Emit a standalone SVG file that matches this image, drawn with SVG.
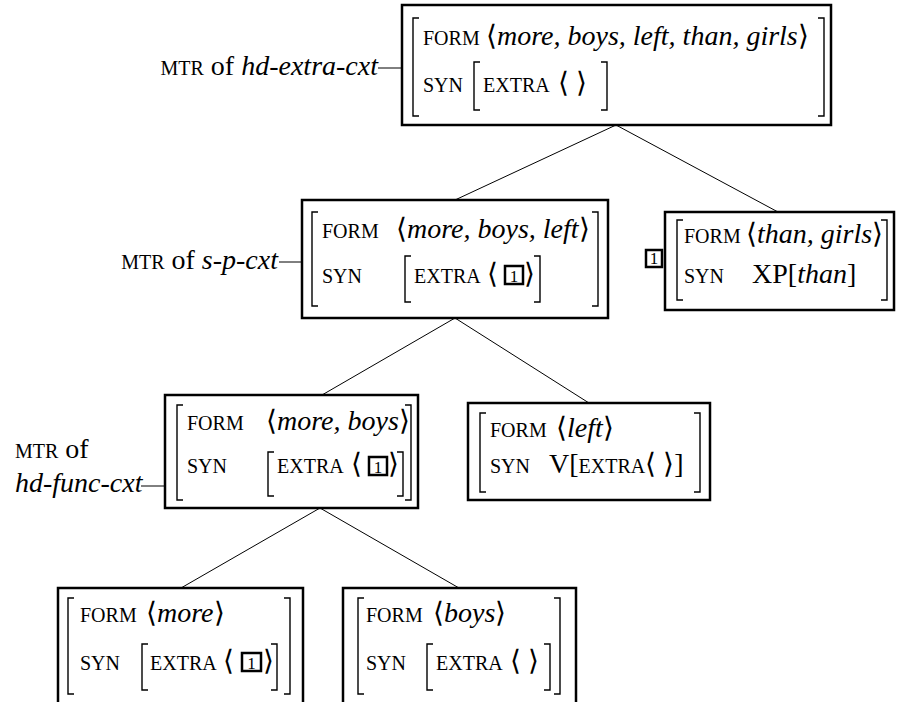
<svg xmlns="http://www.w3.org/2000/svg" width="902" height="702" viewBox="0 0 902 702">
<style>
text{font-family:"Liberation Serif","Times New Roman",serif;fill:#000}
.sc{font-size:20px}
.rm{font-size:28px}
.it{font-style:italic}
.box{fill:#fff;stroke:#000;stroke-width:2.5}
.br{fill:none;stroke:#000;stroke-width:1.4}
.edge{stroke:#000;stroke-width:1;fill:none}
.tag{fill:none;stroke:#000;stroke-width:2.5}
.tt{font-size:17px}
</style>
<rect width="902" height="702" fill="#fff"/>
<g id="connectors">
<line class="edge" x1="616" y1="125" x2="455" y2="200"/>
<line class="edge" x1="616" y1="125" x2="778" y2="212"/>
<line class="edge" x1="455" y1="318" x2="322" y2="395"/>
<line class="edge" x1="455" y1="318" x2="589" y2="403"/>
<line class="edge" x1="320" y1="508" x2="181" y2="588"/>
<line class="edge" x1="320" y1="508" x2="459" y2="588"/>
<line class="edge" x1="378" y1="68" x2="402" y2="68"/>
<line class="edge" x1="279" y1="262" x2="302" y2="262"/>
<line class="edge" x1="141" y1="486" x2="165" y2="486"/>
</g>
<g id="label-hd-extra">
<text x="378" y="75" text-anchor="end"><tspan class="sc">MTR</tspan><tspan class="rm"> of </tspan><tspan class="rm it">hd-extra-cxt</tspan></text>
</g>
<g id="label-s-p">
<text x="278" y="269" text-anchor="end"><tspan class="sc">MTR</tspan><tspan class="rm"> of </tspan><tspan class="rm it">s-p-cxt</tspan></text>
</g>
<g id="label-hd-func">
<text x="15" y="458"><tspan class="sc">MTR</tspan><tspan class="rm"> of</tspan></text>
<text x="15" y="492" class="rm it">hd-func-cxt</text>
</g>
<g id="node-top">
<rect class="box" x="402" y="5" width="429" height="120"/>
<path class="br" d="M419,18H413V116H419"/>
<path class="br" d="M818,18H824V116H818"/>
<text x="423" y="45" class="sc">FORM</text>
<text x="486" y="45" class="rm">⟨<tspan class="it">more, boys, left, than, girls</tspan>⟩</text>
<text x="423" y="92" class="sc">SYN</text>
<path class="br" d="M480,62H474V110H480"/>
<text x="483" y="92" class="sc">EXTRA</text>
<text x="558" y="92" class="rm">⟨ ⟩</text>
<path class="br" d="M601,62H607V110H601"/>
</g>
<g id="node-s-p">
<rect class="box" x="302" y="200" width="306" height="118"/>
<path class="br" d="M318,212H312V306H318"/>
<path class="br" d="M592,212H598V306H592"/>
<text x="322" y="238" class="sc">FORM</text>
<text x="396" y="238" class="rm">⟨<tspan class="it">more, boys, left</tspan>⟩</text>
<text x="322" y="283" class="sc">SYN</text>
<path class="br" d="M411,256H405V302H411"/>
<text x="414" y="283" class="sc">EXTRA</text>
<text x="487" y="283" class="rm">⟨</text>
<rect class="tag" x="505" y="266" width="18" height="18"/>
<text x="514" y="282" class="tt" text-anchor="middle">1</text>
<text x="524" y="283" class="rm">⟩</text>
<path class="br" d="M534,256H540V302H534"/>
</g>
<g id="node-than">
<rect class="box" x="665" y="212" width="229" height="98"/>
<rect class="tag" x="646" y="250" width="16" height="17"/>
<text x="654" y="264" class="tt" text-anchor="middle">1</text>
<path class="br" d="M683,220H677V300H683"/>
<path class="br" d="M881,220H887V300H881"/>
<text x="684" y="243" class="sc">FORM</text>
<text x="746" y="243" class="rm">⟨<tspan class="it">than, girls</tspan>⟩</text>
<text x="684" y="283" class="sc">SYN</text>
<text x="752" y="283" class="rm">XP[<tspan class="it">than</tspan>]</text>
</g>
<g id="node-hd-func">
<rect class="box" x="165" y="395" width="253" height="113"/>
<path class="br" d="M183,405H177V500H183"/>
<path class="br" d="M405,405H411V500H405"/>
<text x="187" y="430" class="sc">FORM</text>
<text x="266" y="430" class="rm">⟨<tspan class="it">more, boys</tspan>⟩</text>
<text x="187" y="473" class="sc">SYN</text>
<path class="br" d="M274,452H268V496H274"/>
<text x="277" y="473" class="sc">EXTRA</text>
<text x="351" y="473" class="rm">⟨</text>
<rect class="tag" x="369" y="457" width="18" height="18"/>
<text x="378" y="473" class="tt" text-anchor="middle">1</text>
<text x="388" y="473" class="rm">⟩</text>
<path class="br" d="M397,452H403V496H397"/>
</g>
<g id="node-left">
<rect class="box" x="468" y="403" width="242" height="97"/>
<path class="br" d="M486,413H480V492H486"/>
<path class="br" d="M694,413H700V492H694"/>
<text x="490" y="437" class="sc">FORM</text>
<text x="556" y="437" class="rm">⟨<tspan class="it">left</tspan>⟩</text>
<text x="490" y="473" class="sc">SYN</text>
<text x="549" y="473"><tspan class="rm">V[</tspan><tspan class="sc">EXTRA</tspan><tspan class="rm">⟨ ⟩]</tspan></text>
</g>
<g id="node-more">
<rect class="box" x="58" y="588" width="245" height="130"/>
<path class="br" d="M74,598H68V694H74"/>
<path class="br" d="M284,598H290V694H284"/>
<text x="80" y="622" class="sc">FORM</text>
<text x="146" y="622" class="rm">⟨<tspan class="it">more</tspan>⟩</text>
<text x="80" y="670" class="sc">SYN</text>
<path class="br" d="M148,644H142V690H148"/>
<text x="150" y="670" class="sc">EXTRA</text>
<text x="223" y="670" class="rm">⟨</text>
<rect class="tag" x="242" y="653" width="19" height="18"/>
<text x="251.5" y="669" class="tt" text-anchor="middle">1</text>
<text x="263" y="670" class="rm">⟩</text>
<path class="br" d="M271,644H277V690H271"/>
</g>
<g id="node-boys">
<rect class="box" x="343" y="588" width="233" height="130"/>
<path class="br" d="M364,598H358V694H364"/>
<path class="br" d="M554,598H560V694H554"/>
<text x="366" y="622" class="sc">FORM</text>
<text x="433" y="622" class="rm">⟨<tspan class="it">boys</tspan>⟩</text>
<text x="366" y="670" class="sc">SYN</text>
<path class="br" d="M433,644H427V690H433"/>
<text x="436" y="670" class="sc">EXTRA</text>
<text x="510" y="670" class="rm">⟨ ⟩</text>
<path class="br" d="M544,644H550V690H544"/>
</g>
</svg>
